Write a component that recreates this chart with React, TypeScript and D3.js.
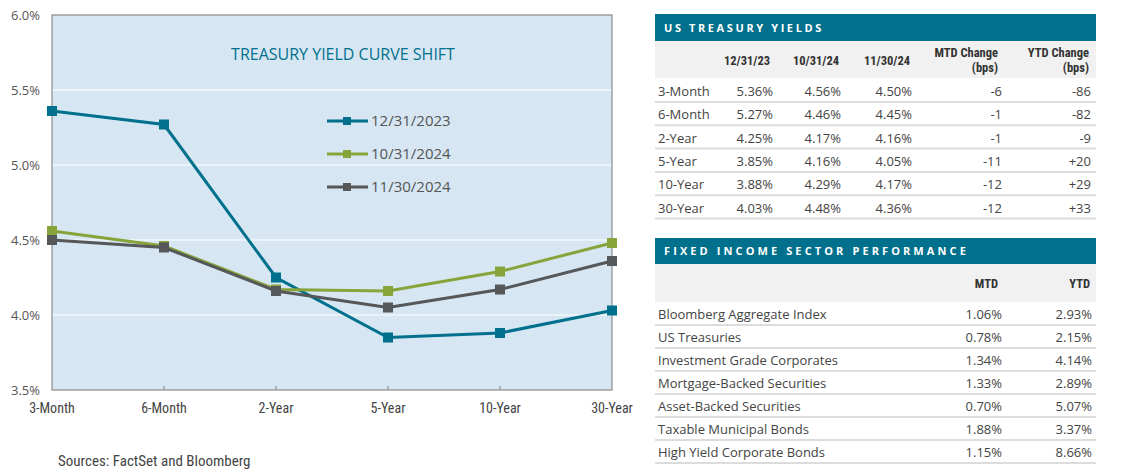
import React from "react";
import * as d3 from "d3";

const tenors = ["3-Month", "6-Month", "2-Year", "5-Year", "10-Year", "30-Year"];
const yields2023 = [5.36, 5.27, 4.25, 3.85, 3.88, 4.03];
const yieldsOct24 = [4.56, 4.46, 4.17, 4.16, 4.29, 4.48];
const yieldsNov24 = [4.5, 4.45, 4.16, 4.05, 4.17, 4.36];
const seriesNames = ["12/31/2023", "10/31/2024", "11/30/2024"];
const yTicks = [3.5, 4.0, 4.5, 5.0, 5.5, 6.0];

const tyHeaders = ["12/31/23", "10/31/24", "11/30/24"];
const mtdChange = ["-6", "-1", "-1", "-11", "-12", "-12"];
const ytdChange = ["-86", "-82", "-9", "+20", "+29", "+33"];

const sectors = [
  "Bloomberg Aggregate Index",
  "US Treasuries",
  "Investment Grade Corporates",
  "Mortgage-Backed Securities",
  "Asset-Backed Securities",
  "Taxable Municipal Bonds",
  "High Yield Corporate Bonds",
];
const sectorMtd = ["1.06%", "0.78%", "1.34%", "1.33%", "0.70%", "1.88%", "1.15%"];
const sectorYtd = ["2.93%", "2.15%", "4.14%", "2.89%", "5.07%", "3.37%", "8.66%"];

const TEAL = "#00708c";
const GREEN = "#86a43a";
const GRAY = "#555759";
const colors = [TEAL, GREEN, GRAY];
const allSeries = [yields2023, yieldsOct24, yieldsNov24];

const MAIN = "'Open Sans', 'DejaVu Sans', sans-serif";
const NARROW = "'Liberation Sans Narrow', 'Arial Narrow', 'Roboto Condensed', sans-serif";

export default function App() {
  const x = d3.scalePoint<string>().domain(tenors).range([52, 612]);
  const y = d3.scaleLinear().domain([3.5, 6.0]).range([390, 15]);
  const line = d3
    .line<number>()
    .x((_, i) => x(tenors[i]) as number)
    .y((d) => y(d));

  const t1x = 655, t1w = 441;
  const rowH = 23.3;
  const fmt = (v: number) => v.toFixed(2) + "%";

  return (
    <svg width={1125} height={474} style={{ position: "absolute", left: 0, top: 0, background: "#fff" }}>
      {/* Chart */}
      <rect x={52} y={15} width={560} height={375} fill="#d6e7f3" />
      {yTicks.slice(1, -1).map((t) => (
        <line key={t} x1={52} x2={612} y1={y(t)} y2={y(t)} stroke="#fff" strokeWidth={1.2} />
      ))}
      <rect x={52} y={15} width={560} height={375} fill="none" stroke="#8a8a8a" strokeWidth={1.2} />
      {tenors.slice(1, -1).map((t) => (
        <line key={t} x1={x(t)} x2={x(t)} y1={390} y2={386} stroke="#8a8a8a" strokeWidth={1} />
      ))}
      {yTicks.map((t) => (
        <text key={t} x={40} y={y(t) + 5} textAnchor="end" fontFamily={MAIN} fontSize={13} fill="#555">
          {t.toFixed(1)}%
        </text>
      ))}
      {tenors.map((t) => (
        <text key={t} x={x(t)} y={413} textAnchor="middle" fontFamily={NARROW} fontSize={14} fill="#444">
          {t}
        </text>
      ))}
      <text x={343} y={60} textAnchor="middle" fontFamily={MAIN} fontSize={16} fill={TEAL}>
        TREASURY YIELD CURVE SHIFT
      </text>
      {allSeries.map((s, si) => (
        <g key={si}>
          <path d={line(s) || ""} fill="none" stroke={colors[si]} strokeWidth={3} />
          {s.map((v, i) => (
            <rect key={i} x={(x(tenors[i]) as number) - 5} y={y(v) - 5} width={10} height={10} fill={colors[si]} />
          ))}
        </g>
      ))}
      {seriesNames.map((n, i) => {
        const ly = 121 + i * 33;
        return (
          <g key={n}>
            <line x1={327} x2={368} y1={ly} y2={ly} stroke={colors[i]} strokeWidth={3} />
            <rect x={343} y={ly - 4} width={8} height={8} fill={colors[i]} />
            <text x={371} y={ly + 5} fontFamily={MAIN} fontSize={15} fill="#555">
              {n}
            </text>
          </g>
        );
      })}
      <text x={58} y={466} fontFamily={NARROW} fontSize={15} fill="#444">
        Sources: FactSet and Bloomberg
      </text>

      {/* Table 1 */}
      <rect x={t1x} y={14} width={t1w} height={27} fill={TEAL} />
      <text x={664} y={32} fontFamily={MAIN} fontSize={11} fontWeight={700} fill="#fff" letterSpacing={2.6}>
        US TREASURY YIELDS
      </text>
      <rect x={t1x} y={41} width={t1w} height={37} fill="#f1f1f1" />
      {tyHeaders.map((h, i) => (
        <text key={h} x={[747, 816, 887][i]} y={65} textAnchor="middle" fontFamily={NARROW} fontSize={12.5} fontWeight={700} fill="#333">
          {h}
        </text>
      ))}
      {["MTD Change", "YTD Change"].map((h, i) => (
        <g key={h}>
          <text x={[998, 1089][i]} y={57} textAnchor="end" fontFamily={NARROW} fontSize={12.5} fontWeight={700} fill="#333">
            {h}
          </text>
          <text x={[998, 1089][i]} y={72} textAnchor="end" fontFamily={NARROW} fontSize={12.5} fontWeight={700} fill="#333">
            (bps)
          </text>
        </g>
      ))}
      {tenors.map((t, i) => {
        const cy = 91 + i * rowH;
        return (
          <g key={t}>
            <text x={658} y={cy + 5} fontFamily={MAIN} fontSize={13} fill="#444">{t}</text>
            <text x={773} y={cy + 5} textAnchor="end" fontFamily={MAIN} fontSize={13} fill="#444">{fmt(yields2023[i])}</text>
            <text x={841} y={cy + 5} textAnchor="end" fontFamily={MAIN} fontSize={13} fill="#444">{fmt(yieldsOct24[i])}</text>
            <text x={912} y={cy + 5} textAnchor="end" fontFamily={MAIN} fontSize={13} fill="#444">{fmt(yieldsNov24[i])}</text>
            <text x={1002} y={cy + 5} textAnchor="end" fontFamily={MAIN} fontSize={13} fill="#444">{mtdChange[i]}</text>
            <text x={1091} y={cy + 5} textAnchor="end" fontFamily={MAIN} fontSize={13} fill="#444">{ytdChange[i]}</text>
            <line x1={t1x} x2={t1x + t1w} y1={cy + 11} y2={cy + 11} stroke="#dcdcdc" strokeWidth={2} />
          </g>
        );
      })}

      {/* Table 2 */}
      <rect x={t1x} y={238} width={t1w} height={26} fill={TEAL} />
      <text x={664} y={255} fontFamily={MAIN} fontSize={11} fontWeight={700} fill="#fff" letterSpacing={3.1}>
        FIXED INCOME SECTOR PERFORMANCE
      </text>
      <rect x={t1x} y={264} width={t1w} height={38} fill="#f1f1f1" />
      <text x={998} y={288} textAnchor="end" fontFamily={NARROW} fontSize={12.5} fontWeight={700} fill="#333">MTD</text>
      <text x={1090} y={288} textAnchor="end" fontFamily={NARROW} fontSize={12.5} fontWeight={700} fill="#333">YTD</text>
      {sectors.map((s, i) => {
        const cy = 314 + i * 23;
        return (
          <g key={s}>
            <text x={658} y={cy + 5} fontFamily={MAIN} fontSize={13} fill="#444">{s}</text>
            <text x={1002} y={cy + 5} textAnchor="end" fontFamily={MAIN} fontSize={13} fill="#444">{sectorMtd[i]}</text>
            <text x={1092} y={cy + 5} textAnchor="end" fontFamily={MAIN} fontSize={13} fill="#444">{sectorYtd[i]}</text>
            <line x1={t1x} x2={t1x + t1w} y1={cy + 11} y2={cy + 11} stroke="#dcdcdc" strokeWidth={2} />
          </g>
        );
      })}
    </svg>
  );
}
